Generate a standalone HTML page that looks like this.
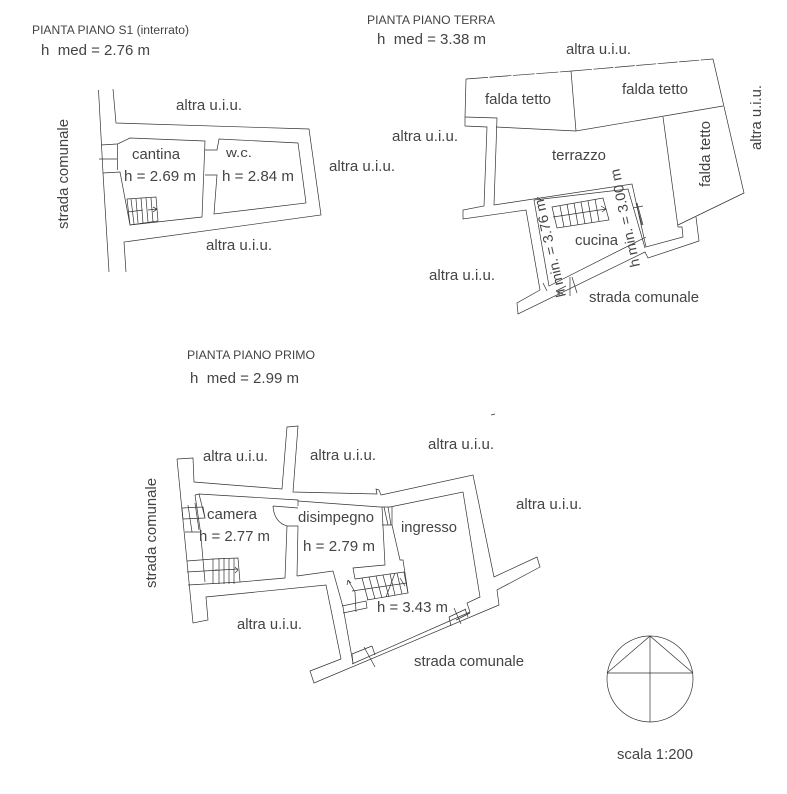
<!DOCTYPE html>
<html>
<head>
<meta charset="utf-8">
<style>
html,body{margin:0;padding:0;background:#fff;width:787px;height:794px;overflow:hidden}
svg{display:block}
polyline,line,path,circle,polygon{fill:none;stroke:#333;stroke-width:.7}
text{font-family:"Liberation Sans",sans-serif;fill:#444;font-size:15px}
.s{font-size:11.5px}
.m{font-size:15px}
</style>
</head>
<body>
<svg width="787" height="794" viewBox="0 0 787 794" xmlns="http://www.w3.org/2000/svg">
<!-- S1 -->
<polyline points="98.5,90 101.5,145 103,173 109,272"/>
<polyline points="113,89 116,123 309,129 321,215 124,242 126,272"/>
<polyline points="117.5,170 117.5,144 130,138 205,141 202,217 130,225 120,172 103,173"/>
<line x1="101" y1="145" x2="117" y2="144"/>
<line x1="99" y1="159" x2="117" y2="159"/>
<polyline points="205,150 217,150 219,139 298,143 306,203 214,214 217,175 205,175"/>
<polygon points="127,199 156,197 158,221 130,225"/>
<path d="M131,199 L134,224 M136,199 L138,223 M141,198 L143,223 M146,198 L148,222 M151,198 L153,222 M128,212 L143,210 M148,210 L157,209 M153,207 L157,209 L153,212"/>
<!-- Terra -->
<polyline points="466,79 572,71" stroke-dasharray="22 1.5"/>
<polyline points="572,71 713,59" stroke-dasharray="20 1.5"/>
<polyline points="713,59 744,193 678,225"/>
<polyline points="465,117 466,79"/>
<polyline points="571,71 576,131 723,106"/>
<polyline points="663,117 678,227"/>
<polyline points="465,117 497,118 494,205 632,184 646,247 683,237 682,227 678,227"/>
<polyline points="496,127 576,131"/>
<polyline points="465,117 465,126 487,127 484,206 463,210 463,219 526,210 540,290 517,303 518,314 645,252 648,258 699,241 696,217"/>
<polyline points="534,200 628,189 645,248"/>
<polyline points="534,200 549,286 646,237"/>
<polygon points="552,207 603,198 609,220 557,228"/>
<path d="M560,206 L564,227 M567,204 L571,226 M574,203 L578,225 M581,202 L585,224 M588,201 L592,223 M595,199 L599,221 M553,217 L606,209 M601,206 L606,209 L602,212"/>
<path d="M537,197 L541,200 M633,208 L643,206 M636,203 L642,225 M637,203 L643,225 M556,291 L566,286 M570,277 L570,296 M572,277 L577,293 M556,291 L563,294 M543,283 L547,291"/>
<!-- Primo -->
<polyline points="177,459 193,458 194,482 282,489 287,427 298,426 293,492 377,494 376,489 379,490 381,495 473,475 494,577 537,557 540,567 497,590 499,605 314,683 310,671 341,659 326,585 206,597 208,620 193,623 177,459"/>
<polyline points="195,495 199,494 298,500 298,506"/>
<polyline points="298,501 380,507 390,507 463,492 480,597 467,603 470,612 352,664"/>
<polyline points="343,607 353,663"/>
<polyline points="297,576 333,571 343,607"/>
<polyline points="297,576 298,526 287,526 285,578 240,582 188,585"/>
<path d="M273,506 Q274,522 287,526 M273,506 L298,508"/>
<polyline points="195,495 200.5,532 185,532"/>
<polyline points="199,494 205,518"/>
<polyline points="200.5,532 205,582"/>
<path d="M182,508 L203,507 L205,518 L183,519 Z M188,505 L192,532 M195,503 L199,530"/>
<path d="M187,561 L213,559 L238,558 L240,582 M187,572 L238,569 M213,559 L213,584 M219,558 L219,584 M224,558 L224,584 M229,558 L229,584 M234,558 L234,584 M215,570 L218,570 M235,567 L238,570 L235,573"/>
<polyline points="382,507 385,565 353,568 355,579"/>
<polyline points="392,507 392,525 400,560 403,560 408,593 367,600"/>
<path d="M382,525 L392,525 M384,507 L388,525 M388,507 L391,525"/>
<polyline points="355,579 404,572 408,593"/>
<path d="M362,578 L368,600 M369,577 L375,599 M376,576 L382,598 M383,575 L389,597 M390,574 L395,595 M397,573 L402,594 M352,591 L407,583 M386,597 L395,573 M400,578 L405,586"/>
<polyline points="342,606 366,601 367,608 343,613"/>
<path d="M348,580 L355,592 M348,580 L347,585 M348,580 L351,583 M355,592 L356,612"/>
<path d="M352,654 L372,646 M353,664 L352,654 M364,647 L375,667 M372,646 L375,655 M449,617 L466,609 M454,608 L461,624 M449,617 L451,626 M465,609 L468,617 M456,620 L470,613"/>
<line x1="491" y1="415" x2="495" y2="414"/>
<!-- compass -->
<circle cx="650" cy="679" r="43"/>
<path d="M607,673 L693,673 M650,636 L650,722 M607,673 L650,636 L693,673"/>
<!-- S1 labels -->
<text class="s" x="32" y="34" textLength="157" lengthAdjust="spacingAndGlyphs">PIANTA PIANO S1 (interrato)</text>
<text class="m" x="41" y="55" textLength="109" lengthAdjust="spacingAndGlyphs" xml:space="preserve">h  med = 2.76 m</text>
<text x="176" y="110" class="m" textLength="66" lengthAdjust="spacingAndGlyphs">altra u.i.u.</text>
<text x="132" y="159" class="m" textLength="48" lengthAdjust="spacingAndGlyphs">cantina</text>
<text x="226" y="157" class="m" style="font-size:13px" textLength="26" lengthAdjust="spacingAndGlyphs">w.c.</text>
<text x="124" y="181" class="m" textLength="72" lengthAdjust="spacingAndGlyphs">h = 2.69 m</text>
<text x="222" y="181" class="m" textLength="72" lengthAdjust="spacingAndGlyphs">h = 2.84 m</text>
<text x="329" y="171" class="m" textLength="66" lengthAdjust="spacingAndGlyphs">altra u.i.u.</text>
<text x="206" y="250" class="m" textLength="66" lengthAdjust="spacingAndGlyphs">altra u.i.u.</text>
<text transform="translate(68,229) rotate(-90)" class="m" textLength="110" lengthAdjust="spacingAndGlyphs">strada comunale</text>
<!-- Terra labels -->
<text class="s" x="367" y="24" textLength="128" lengthAdjust="spacingAndGlyphs">PIANTA PIANO TERRA</text>
<text class="m" x="377" y="44" textLength="109" lengthAdjust="spacingAndGlyphs" xml:space="preserve">h  med = 3.38 m</text>
<text x="566" y="54" class="m" textLength="65" lengthAdjust="spacingAndGlyphs">altra u.i.u.</text>
<text x="485" y="104" class="m" textLength="66" lengthAdjust="spacingAndGlyphs">falda tetto</text>
<text x="622" y="94" class="m" textLength="66" lengthAdjust="spacingAndGlyphs">falda tetto</text>
<text x="392" y="141" class="m" textLength="66" lengthAdjust="spacingAndGlyphs">altra u.i.u.</text>
<text x="552" y="160" class="m" textLength="54" lengthAdjust="spacingAndGlyphs">terrazzo</text>
<text transform="translate(710,187) rotate(-90)" class="m" textLength="66" lengthAdjust="spacingAndGlyphs">falda tetto</text>
<text transform="translate(761,150) rotate(-90)" class="m" textLength="65" lengthAdjust="spacingAndGlyphs">altra u.i.u.</text>
<text x="575" y="245" class="m" textLength="43" lengthAdjust="spacingAndGlyphs">cucina</text>
<text x="429" y="280" class="m" textLength="66" lengthAdjust="spacingAndGlyphs">altra u.i.u.</text>
<text x="589" y="302" class="m" textLength="110" lengthAdjust="spacingAndGlyphs">strada comunale</text>
<text transform="translate(566,296) rotate(-103)" style="font-size:14px" textLength="100" lengthAdjust="spacingAndGlyphs">h min. = 3.76 m</text>
<text transform="translate(640,266) rotate(-102)" style="font-size:14px" textLength="100" lengthAdjust="spacingAndGlyphs">h min. = 3.00 m</text>
<!-- Primo labels -->
<text class="s" x="187" y="359" textLength="128" lengthAdjust="spacingAndGlyphs">PIANTA PIANO PRIMO</text>
<text class="m" x="190" y="383" textLength="109" lengthAdjust="spacingAndGlyphs" xml:space="preserve">h  med = 2.99 m</text>
<text x="428" y="449" class="m" textLength="66" lengthAdjust="spacingAndGlyphs">altra u.i.u.</text>
<text x="203" y="461" class="m" textLength="65" lengthAdjust="spacingAndGlyphs">altra u.i.u.</text>
<text x="310" y="460" class="m" textLength="66" lengthAdjust="spacingAndGlyphs">altra u.i.u.</text>
<text x="516" y="509" class="m" textLength="66" lengthAdjust="spacingAndGlyphs">altra u.i.u.</text>
<text x="207" y="519" class="m" textLength="50" lengthAdjust="spacingAndGlyphs">camera</text>
<text x="298" y="522" class="m" textLength="76" lengthAdjust="spacingAndGlyphs">disimpegno</text>
<text x="401" y="532" class="m" textLength="56" lengthAdjust="spacingAndGlyphs">ingresso</text>
<text x="199" y="541" class="m" textLength="71" lengthAdjust="spacingAndGlyphs">h = 2.77 m</text>
<text x="303" y="551" class="m" textLength="72" lengthAdjust="spacingAndGlyphs">h = 2.79 m</text>
<text x="377" y="612" class="m" textLength="71" lengthAdjust="spacingAndGlyphs">h = 3.43 m</text>
<text transform="translate(156,588) rotate(-90)" class="m" textLength="110" lengthAdjust="spacingAndGlyphs">strada comunale</text>
<text x="237" y="629" class="m" textLength="65" lengthAdjust="spacingAndGlyphs">altra u.i.u.</text>
<text x="414" y="666" class="m" textLength="110" lengthAdjust="spacingAndGlyphs">strada comunale</text>
<text x="617" y="759" class="m" textLength="76" lengthAdjust="spacingAndGlyphs">scala 1:200</text>
</svg>
</body>
</html>
